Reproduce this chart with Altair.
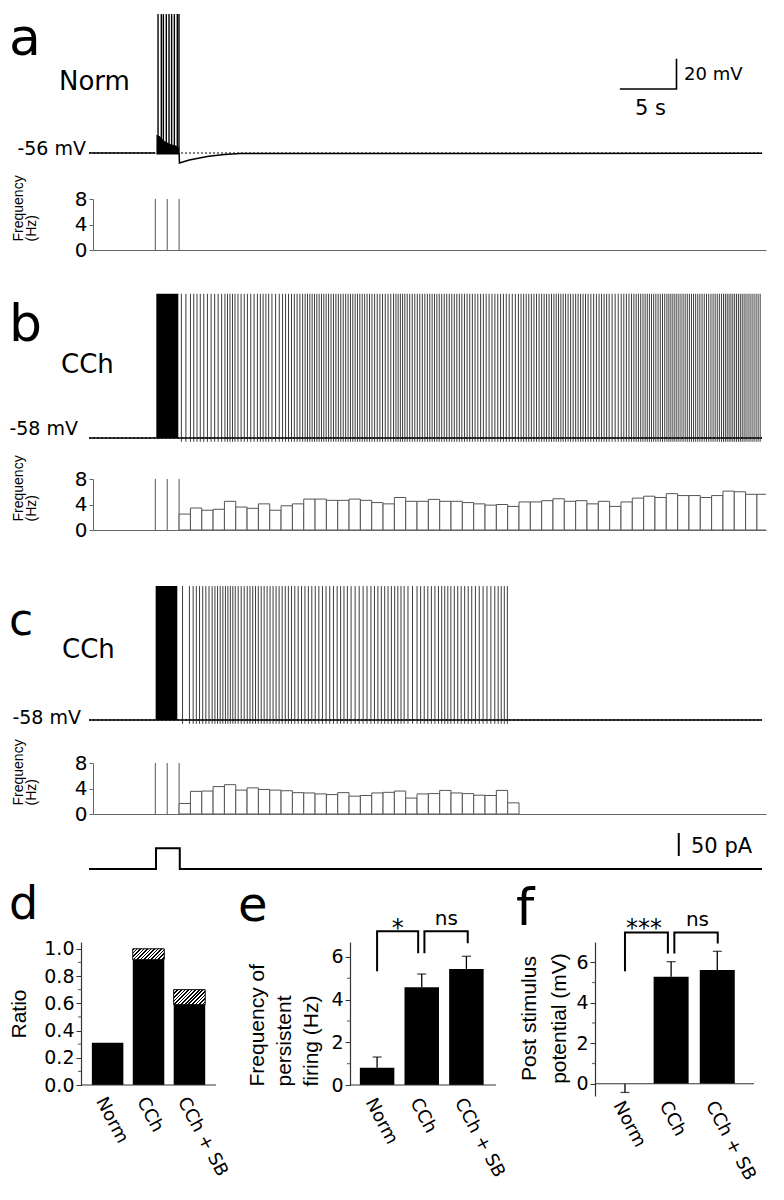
import math
import altair as alt
import pandas as pd

# ================= values =================
T_END = 59.4                       # s, right end of the time axis
TRACE_T0, TRACE_T1 = -0.35, 59.05  # s, extent of the recorded traces
STIM_ON, STIM_OFF, STIM_AMP = 5.56, 7.66, 45.0   # current step (s, s, pA)
STIM_BIN_EDGES = [5.5, 6.55, 7.6]  # off-scale bins during the step
BIN0, BIN_W = 7.6, 1.0             # post-stimulus 1-s bins

freq_b = [2.5, 3.45, 3.1, 3.25, 4.5, 3.6, 3.4, 4.1, 3.1, 3.8, 4.1, 4.85, 4.85, 4.65,
          4.65, 4.85, 4.65, 4.3, 4.1, 5.1, 4.5, 4.5, 4.8, 4.5, 4.5, 4.3, 4.1, 3.9, 4.0,
          3.7, 4.4, 4.4, 4.6, 4.9, 4.5, 4.6, 4.1, 4.5, 3.7, 4.4, 5.0, 5.3, 5.1, 5.7,
          5.4, 5.4, 5.1, 5.4, 6.1, 6.0, 5.6, 5.6]
freq_c = [1.65, 3.55, 3.6, 4.3, 4.6, 3.75, 4.1, 3.85, 3.75, 3.65, 3.35, 3.3, 3.15, 3.05,
          3.35, 2.8, 2.9, 3.3, 3.4, 3.6, 2.5, 3.15, 3.2, 3.7, 3.3, 3.2, 2.95, 2.9, 3.7, 1.75]

spikes_a = [5.74, 6.03, 6.21, 6.47, 6.71, 6.94, 7.18, 7.44, 7.59]   # Norm, during step
rest = {"a": -56.0, "b": -58.0, "c": -58.0}     # mV
peak = {"a": 35.7, "b": 37.2, "c": 30.4}        # mV
AHP = 2.5                                        # mV below rest after each spike
last_spike = {"b": 59.0, "c": 36.95}
block = {"b": (5.59, 7.53), "c": (5.53, 7.44)}   # dense firing during the step
ahp_t = [7.6, 7.63, 8.5, 10.2, 11.6, 13.0, TRACE_T1]
ahp_v = [-56.0, -62.6, -60.6, -58.2, -57.0, -56.3, -56.2]
burst_t = [5.6, 5.9, 6.3, 6.8, 7.3, 7.6]
burst_v = [-44.0, -45.0, -48.0, -50.0, -51.0, -52.5]
SCALE_T = [46.5, 51.5]          # 5 s
SCALE_V = [-13.76, 6.24]        # 20 mV
PA_BAR_T, PA_BAR = 51.7, [28.3, 78.3]   # 50 pA

stim_t = [TRACE_T0, STIM_ON, STIM_ON, STIM_OFF, STIM_OFF, TRACE_T1]
stim_i = [0, 0, STIM_AMP, STIM_AMP, 0, 0]

groups = ["Norm", "CCh", "CCh + SB"]
ratio_solid = [0.31, 0.92, 0.59]
ratio_total = [0.31, 1.00, 0.70]
pf_mean = [0.81, 4.58, 5.44]
pf_err = [1.31, 5.20, 6.03]
psp_mean = [0.0, 5.29, 5.62]
psp_err = [-0.43, 6.03, 6.54]
# brackets: x_left, x_right, y_left_end, y_right_end, y_top, label, label_x
brk_e = [(0.0, 0.92, 5.33, 6.17, 7.2, "*", 0.46), (1.06, 2.03, 6.17, 6.64, 7.2, "ns", 1.55)]
brk_f = [(0.0, 0.93, 5.55, 6.43, 7.47, "***", 0.41), (1.07, 2.01, 6.43, 6.93, 7.47, "ns", 1.57)]
minor_d = [0.1, 0.3, 0.5, 0.7, 0.9]
minor_e = [1, 3, 5]
minor_f = [1, 3, 5]

# ================= layout / style =================
K = 1.515          # px per mV
W = 673            # width of trace panels
FONT = "DejaVu Sans"
TFONT = "Liberation Sans"
AX = "#333"

xs = alt.Scale(domain=[0, T_END], nice=False, zero=False)


def tx(f, axis=None):
    return alt.X(f, type="quantitative", scale=xs, axis=axis)


def label(text, x, y, size, align="left", font=FONT, dy=0):
    return alt.Chart(pd.DataFrame({"k": [0]})).mark_text(
        text=text, align=align, baseline="alphabetic", font=font, fontSize=size,
        color="black", dy=dy).encode(x=alt.value(x), y=alt.value(y))


def persistent_spikes(freqs, t_stop):
    out, cum = [], 0.0
    for i, r in enumerate(freqs):
        start = BIN0 + i * BIN_W
        k = math.floor(cum - 0.5) + 1
        while k + 0.5 <= cum + r * BIN_W:
            t = start + (k + 0.5 - cum) / r
            if t <= t_stop:
                out.append(t)
            k += 1
        cum += r * BIN_W
    return out


def trace_panel(key, H, base_px, segments, spike_t, spike_lo, texts, burst=False,
                scalebar=False, spike_w=0.85, spike_c="#1a1a1a"):
    r, p = rest[key], peak[key]
    ys = alt.Scale(domain=[r - (H - base_px) / K, r + base_px / K], nice=False, zero=False)

    def ty(f):
        return alt.Y(f, type="quantitative", scale=ys, axis=None)

    layers = []
    dot = pd.DataFrame({"t": [TRACE_T0, TRACE_T1], "v": [r, r]})
    layers.append(alt.Chart(dot).mark_line(color="black", strokeWidth=1, strokeDash=[2, 2])
                  .encode(x=tx("t"), y=ty("v")))
    rows = []
    for si, seg in enumerate(segments):
        for j, (t, v) in enumerate(seg):
            rows.append({"t": t, "v": v, "seg": si, "o": j})
    layers.append(alt.Chart(pd.DataFrame(rows)).mark_line(color="black", strokeWidth=1.5)
                  .encode(x=tx("t"), y=ty("v"), detail="seg:N", order="o:Q"))
    if key in block:
        b0, b1 = block[key]
        layers.append(alt.Chart(pd.DataFrame({"t0": [b0], "t1": [b1], "lo": [r], "hi": [p]}))
                      .mark_rect(color="black").encode(x=tx("t0"), x2="t1", y=ty("lo"), y2="hi"))
    if burst:
        layers.append(alt.Chart(pd.DataFrame({"t": burst_t, "v": burst_v, "b": r - 1}))
                      .mark_area(color="black").encode(x=tx("t"), y=ty("v"), y2="b"))
    sp = pd.DataFrame({"t": spike_t, "lo": spike_lo, "hi": p})
    layers.append(alt.Chart(sp).mark_rule(color=spike_c, strokeWidth=spike_w)
                  .encode(x=tx("t"), y=ty("lo"), y2="hi"))
    if scalebar:
        sb = pd.DataFrame({"t": [SCALE_T[0], SCALE_T[1], SCALE_T[1]],
                           "v": [SCALE_V[0], SCALE_V[0], SCALE_V[1]], "o": [0, 1, 2]})
        layers.append(alt.Chart(sb).mark_line(color="black", strokeWidth=1.6)
                      .encode(x=tx("t"), y=ty("v"), order="o:Q"))
    for t in texts:
        layers.append(label(*t))
    return alt.layer(*layers).properties(width=W, height=H)


ys_h = alt.Scale(domain=[0, 8], nice=False, zero=False)
hist_yax = alt.Axis(values=[0, 4, 8], title=["Frequency", "(Hz)"], titleFont=TFONT, titleFontSize=14,
                    titleFontWeight="normal", titleColor="black", titleAngle=270, titleAlign="left",
                    titleBaseline="alphabetic", titleX=-71, titleY=42, titleLineHeight=13,
                    titleLimit=400, labelFont=FONT, labelFontSize=20, labelColor="black", tickSize=4,
                    labelPadding=2, domainColor="#666", tickColor="#666", grid=False, labelFlush=False)
hist_xax = alt.Axis(title=None, labels=False, ticks=False, domain=True, domainColor="#666", grid=False)


def hist_panel(freqs):
    edges = pd.DataFrame({"t": STIM_BIN_EDGES, "y0": 0, "y1": 8})
    layers = [alt.Chart(edges).mark_rule(color="#555", strokeWidth=1).encode(
        x=tx("t", hist_xax), y=alt.Y("y0:Q", scale=ys_h, axis=hist_yax), y2="y1")]
    if freqs:
        n = len(freqs)
        bins = pd.DataFrame({"t0": [BIN0 + i * BIN_W for i in range(n)],
                             "t1": [BIN0 + (i + 1) * BIN_W for i in range(n)],
                             "f": freqs, "z": 0})
        layers.append(alt.Chart(bins).mark_rect(fill="white", stroke="#555", strokeWidth=1, clip=True)
                      .encode(x=tx("t0", hist_xax), x2="t1",
                              y=alt.Y("f:Q", scale=ys_h, axis=hist_yax), y2="z"))
    return alt.layer(*layers).properties(width=W, height=51)


trace_a = trace_panel(
    "a", 191, 145,
    [[(TRACE_T0, rest["a"]), (5.5, rest["a"])], list(zip(ahp_t, ahp_v))],
    spikes_a, rest["a"],
    [("a", -84, 47, 52), ("Norm", -34, 82, 26), ("-56 mV", -7, 147, 19, "right"),
     ("20 mV", 591, 72, 18), ("5 s", 542, 107, 21)],
    burst=True, scalebar=True, spike_w=1.4, spike_c="black")
trace_b = trace_panel(
    "b", 229, 188, [[(TRACE_T0, rest["b"]), (TRACE_T1, rest["b"])]],
    persistent_spikes(freq_b, last_spike["b"]), rest["b"] - AHP,
    [("b", -84, 91, 52), ("CCh", -32, 123, 26), ("-58 mV", -15, 185, 19, "right")])
trace_c = trace_panel(
    "c", 233, 190, [[(TRACE_T0, rest["c"]), (TRACE_T1, rest["c"])]],
    persistent_spikes(freq_c, last_spike["c"]), rest["c"] - AHP,
    [("c", -84, 105, 44), ("CCh", -31, 128, 26), ("-58 mV", -12, 194, 19, "right")])

ys_s = alt.Scale(domain=[-19.6, 119.6], nice=False, zero=False)
stim_df = pd.DataFrame({"t": stim_t, "i": stim_i, "o": range(len(stim_t))})
stim = alt.layer(
    alt.Chart(stim_df).mark_line(color="black", strokeWidth=2).encode(
        x=tx("t"), y=alt.Y("i:Q", scale=ys_s, axis=None), order="o:Q"),
    alt.Chart(pd.DataFrame({"t": [PA_BAR_T], "lo": [PA_BAR[0]], "hi": [PA_BAR[1]]}))
    .mark_rule(color="black", strokeWidth=2).encode(
        x=tx("t"), y=alt.Y("lo:Q", scale=ys_s, axis=None), y2="hi"),
    label("50 pA", 598, 39, 21),
).properties(width=W, height=64)

top = alt.vconcat(trace_a, hist_panel(None), trace_b, hist_panel(freq_b), trace_c,
                  hist_panel(freq_c), stim, spacing=0, bounds="flush"
                  ).resolve_scale(x="independent", y="independent")

# ================= bar charts =================
# the bottom row's plot origin is aligned with the traces' origin (x = 84)
LABEL_EXPR = "[" + ",".join("'%s'" % g for g in groups) + "][datum.value]"
pos = list(range(len(groups)))


def bx_axis(pad):
    return alt.Axis(values=pos, labelExpr=LABEL_EXPR, labelAngle=62, labelAlign="left",
                    labelBaseline="top", labelPadding=pad, labelFont=FONT, labelFontSize=18,
                    labelColor="black", labelFlush=False, labelOverlap=False, labelLimit=300,
                    ticks=False, domain=False, title=None, grid=False)


def by_axis(values, fmt, title, tx_, ty_, talign, lh=27, offset=0):
    return alt.Axis(values=values, format=fmt, title=title, titleFont=TFONT, titleFontSize=21,
                    titleFontWeight="normal", titleColor="black", titleAngle=270, titleAlign=talign,
                    titleBaseline="alphabetic", titleX=tx_, titleY=ty_, titleLineHeight=lh,
                    titleLimit=400, labelFont=FONT, labelFontSize=19, labelColor="black",
                    labelFlush=False, labelOverlap=False, tickSize=5, tickColor=AX, labelPadding=2,
                    domainColor=AX, domainWidth=1.2, offset=offset, grid=False)


def hatch(w, h, n):
    lam = (w + h) / (w * w + h * h)
    stops = []
    for i in range(n):
        a, b, c = i / n, (i + 0.45) / n, (i + 1) / n
        stops += [alt.GradientStop(offset=a, color="black"), alt.GradientStop(offset=b, color="black"),
                  alt.GradientStop(offset=b, color="white"), alt.GradientStop(offset=c, color="white")]
    return alt.LinearGradient(gradient="linear", stops=stops, x1=0, y1=0, x2=lam * w, y2=lam * h)


def baseline_rule(Y, x0, x1):
    return alt.Chart(pd.DataFrame({"z": [0]})).mark_rule(color=AX, strokeWidth=1.2).encode(
        y=Y("z"), x=alt.value(x0), x2=alt.value(x1))


def minor_ticks(Y, values, axis_x):
    return alt.Chart(pd.DataFrame({"m": values})).mark_tick(
        color=AX, thickness=1.2, size=3, orient="horizontal").encode(
        y=Y("m"), x=alt.value(axis_x - 1.5))


def brackets(brk, X, Y, fs_star, dys):
    rows = []
    for bi, (xl, xr, yl, yr, top_, _, _) in enumerate(brk):
        for j, (x, y) in enumerate([(xl, yl), (xl, top_), (xr, top_), (xr, yr)]):
            rows.append({"x": x, "y": y, "b": bi, "o": j})
    layers = [alt.Chart(pd.DataFrame(rows)).mark_line(color="black", strokeWidth=2).encode(
        x=X("x"), y=Y("y"), detail="b:N", order="o:Q")]
    for (xl, xr, yl, yr, top_, txt, lx), dy in zip(brk, dys):
        star = txt.startswith("*")
        layers.append(alt.Chart(pd.DataFrame({"x": [lx], "y": [top_]})).mark_text(
            text=txt, font=FONT, fontSize=fs_star if star else 20, baseline="alphabetic",
            align="center", dy=dy, color="black").encode(x=X("x"), y=Y("y")))
    return layers


# ---- d ----  (plot origin at x=84, y axis pushed out to x=72)
Wd, Hd = 117, 143
D_OFF = 12
xd = alt.Scale(domain=[-10.5 / 44.75, -10.5 / 44.75 + Wd / 44.75], nice=False, zero=False)
yd = alt.Scale(domain=[0, 1.05], nice=False, zero=False)
xa_d = bx_axis(9)
ya_d = by_axis([0, 0.2, 0.4, 0.6, 0.8, 1.0], ".1f", "Ratio", -56, 71.5, "center", offset=D_OFF)
dd = pd.DataFrame({"pos": pos, "solid": ratio_solid, "total": ratio_total})
Xd = alt.X("pos:Q", scale=xd, axis=xa_d)


def Yd(f):
    return alt.Y(f + ":Q", scale=yd, axis=ya_d)


d_layers = [alt.Chart(dd).mark_bar(color="black", width=31.5, orient="vertical").encode(
    x=Xd, y=Yd("solid")), baseline_rule(Yd, -D_OFF, Wd + 6), minor_ticks(Yd, minor_d, -D_OFF)]
for i in pos:
    if ratio_total[i] > ratio_solid[i]:
        hpx = (ratio_total[i] - ratio_solid[i]) * Hd / 1.05
        d_layers.append(alt.Chart(dd.iloc[[i]]).mark_bar(
            fill=hatch(31.5, hpx, int(round((31.5 + hpx) / 1.414 / 2.5))), stroke="black",
            strokeWidth=1, width=31.5, orient="vertical").encode(
            x=Xd, y=Yd("total"), y2="solid"))
d_layers.append(label("d", -84, -23, 46))
panel_d = alt.layer(*d_layers).properties(width=Wd, height=Hd)


def err_panel(Wp, Hp, xdom, ydom, means, errs, bw, xa, ya, brk, fs_star, dys, letter, base_x,
              minor, axis_x):
    xsc = alt.Scale(domain=xdom, nice=False, zero=False)
    ysc = alt.Scale(domain=ydom, nice=False, zero=False)

    def X(f):
        return alt.X(f + ":Q", scale=xsc, axis=xa)

    def Y(f):
        return alt.Y(f + ":Q", scale=ysc, axis=ya)

    df = pd.DataFrame({"pos": pos, "m": means, "e": errs})
    layers = [
        alt.Chart(df).mark_rule(color="black", strokeWidth=1.3).encode(x=X("pos"), y=Y("m"), y2="e"),
        alt.Chart(df).mark_tick(color="black", thickness=1.3, size=9, orient="horizontal").encode(
            x=X("pos"), y=Y("e")),
        alt.Chart(df).mark_bar(color="black", width=bw, orient="vertical").encode(x=X("pos"), y=Y("m")),
        baseline_rule(Y, base_x[0], base_x[1]),
        minor_ticks(Y, minor, axis_x),
    ]
    layers += brackets(brk, X, Y, fs_star, dys)
    layers.append(label(*letter))
    return alt.layer(*layers).properties(width=Wp, height=Hp)


# ---- e ----  (plot a little narrower than its axis line so that f fits in the page)
We = 126
panel_e = err_panel(
    We, 143, [-24 / 48.5, -24 / 48.5 + We / 48.5], [0, 6.7], pf_mean, pf_err, 34.5, bx_axis(10),
    by_axis([0, 2, 4, 6], "d", ["Frequency of", "persistent", "firing (Hz)"], -87, 144, "left"),
    brk_e, 24, [5, -6], ("e", -112, -21, 48), (0, 146), minor_e, 0)

# ---- f ----  (y axis pushed out by 21 px)
Hf = 154
ya_f = by_axis([0, 2, 4, 6], "d", ["Post stimulus", "potential (mV)"], -60, 76, "center", lh=30, offset=21)
panel_f = err_panel(
    130, Hf, [-0.086, 2.514], [7 - Hf / 20.25, 7], psp_mean, psp_err, 35, bx_axis(2), ya_f,
    brk_f, 24, [4, -6], ("f", -100, -17, 52), (-21, 138), minor_f, -21)

bottom = alt.hconcat(panel_d, panel_e, panel_f, spacing=140, bounds="flush"
                     ).resolve_scale(x="independent", y="independent")

chart = alt.concat(top, bottom, columns=1, align="none", spacing=4).properties(
    padding=0, background="white").configure_view(stroke=None)

chart.save("out.html", embed_options={"renderer": "svg", "actions": False})
